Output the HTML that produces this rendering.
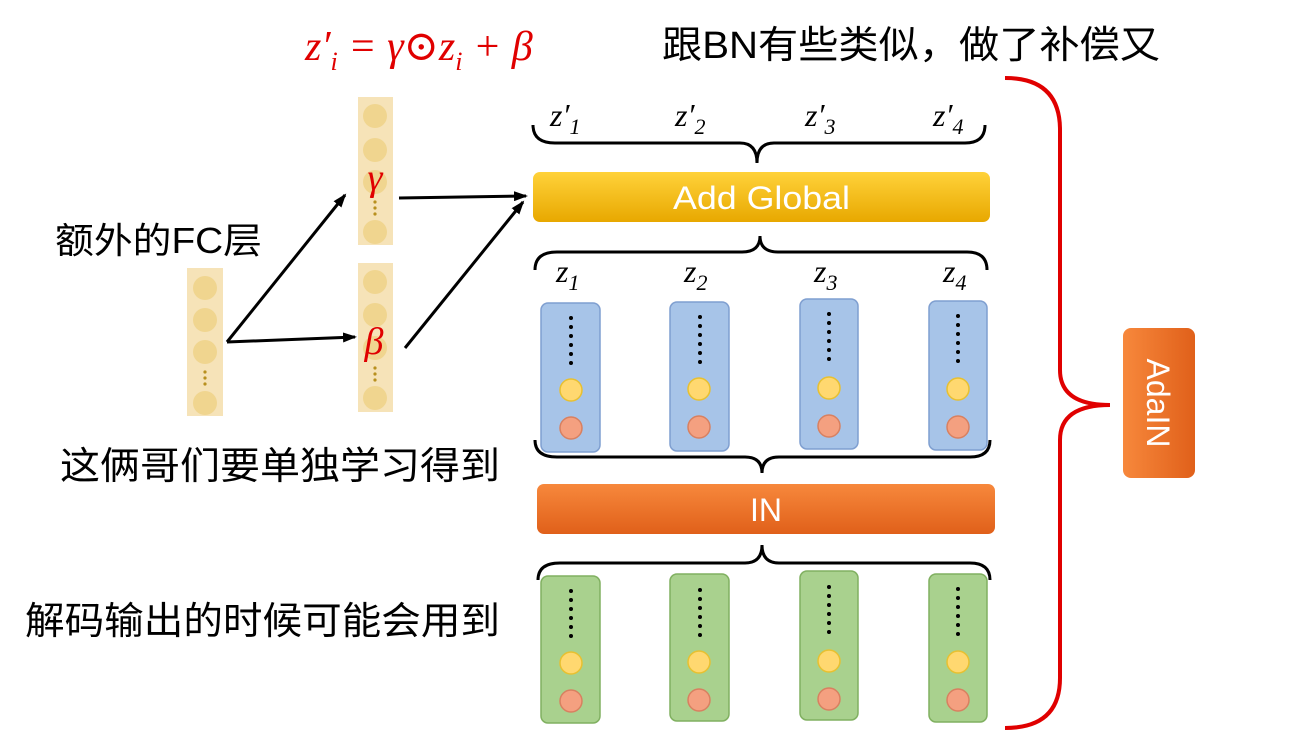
<!DOCTYPE html>
<html><head><meta charset="utf-8"><style>
html,body{margin:0;padding:0;background:#fff;}
svg{display:block;}
.cn{font-family:"Liberation Sans","Noto Sans CJK SC",sans-serif;}
.m{font-family:"Liberation Serif","DejaVu Serif",serif;font-style:italic;}
</style></head><body>
<svg width="1300" height="744" viewBox="0 0 1300 744" xmlns="http://www.w3.org/2000/svg">
<defs>
<linearGradient id="yg" x1="0" y1="0" x2="0" y2="1"><stop offset="0" stop-color="#ffd23a"/><stop offset="1" stop-color="#e8a800"/></linearGradient>
<linearGradient id="og" x1="0" y1="0" x2="0" y2="1"><stop offset="0" stop-color="#f7883c"/><stop offset="1" stop-color="#e0601a"/></linearGradient>
<linearGradient id="og2" x1="0" y1="0" x2="1" y2="0"><stop offset="0" stop-color="#f7883c"/><stop offset="1" stop-color="#e0601a"/></linearGradient>
<marker id="ar" markerWidth="14" markerHeight="10" refX="12" refY="5" orient="auto" markerUnits="userSpaceOnUse"><path d="M0,0 L14,5 L0,10 Z" fill="#000"/></marker>
</defs>

<!-- title -->
<text x="305" y="60" class="m" font-size="42" fill="#e00000">z′<tspan font-size="26" dy="10">i</tspan><tspan dy="-10"> = γ⊙z</tspan><tspan font-size="26" dy="10">i</tspan><tspan dy="-10"> + β</tspan></text>
<text x="662" y="58" class="cn" font-size="38" fill="#000" textLength="498" lengthAdjust="spacingAndGlyphs">跟BN有些类似，做了补偿又</text>

<!-- left texts -->
<text x="55" y="253" class="cn" font-size="36" textLength="207" lengthAdjust="spacingAndGlyphs">额外的FC层</text>
<text x="60" y="479" class="cn" font-size="38" textLength="440" lengthAdjust="spacingAndGlyphs">这俩哥们要单独学习得到</text>
<text x="25" y="634" class="cn" font-size="38" textLength="475" lengthAdjust="spacingAndGlyphs">解码输出的时候可能会用到</text>

<!-- FC column -->
<rect x="187" y="268" width="36" height="148" fill="#f6e3b8"/>
<g fill="#f0d58f"><circle cx="205" cy="288" r="12"/><circle cx="205" cy="320" r="12"/><circle cx="205" cy="352" r="12"/><circle cx="205" cy="403" r="12"/></g>
<g fill="#b8901e"><circle cx="205" cy="372" r="1.6"/><circle cx="205" cy="378" r="1.6"/><circle cx="205" cy="384" r="1.6"/></g>
<!-- gamma column -->
<rect x="358" y="97" width="35" height="148" fill="#f6e3b8"/>
<g fill="#f0d58f"><circle cx="375" cy="116" r="12"/><circle cx="375" cy="150" r="12"/><circle cx="375" cy="182" r="12"/><circle cx="375" cy="232" r="12"/></g>
<g fill="#b8901e"><circle cx="375" cy="202" r="1.6"/><circle cx="375" cy="208" r="1.6"/><circle cx="375" cy="214" r="1.6"/></g>
<text x="375" y="190" class="m" font-size="38" fill="#e00000" text-anchor="middle">γ</text>
<!-- beta column -->
<rect x="358" y="263" width="35" height="149" fill="#f6e3b8"/>
<g fill="#f0d58f"><circle cx="375" cy="282" r="12"/><circle cx="375" cy="315" r="12"/><circle cx="375" cy="348" r="12"/><circle cx="375" cy="398" r="12"/></g>
<g fill="#b8901e"><circle cx="375" cy="368" r="1.6"/><circle cx="375" cy="374" r="1.6"/><circle cx="375" cy="380" r="1.6"/></g>
<text x="374" y="354" class="m" font-size="38" fill="#e00000" text-anchor="middle">β</text>

<!-- arrows -->
<g stroke="#000" stroke-width="3" fill="none" marker-end="url(#ar)">
<line x1="227" y1="342" x2="345" y2="195"/>
<line x1="227" y1="342" x2="355" y2="337"/>
<line x1="399" y1="198" x2="526" y2="196"/>
<line x1="405" y1="348" x2="523" y2="202"/>
</g>

<!-- braces -->
<g stroke="#000" stroke-width="3" fill="none">
<path d="M533,125 Q533,143 555,143 L740,143 Q757,143 757,163 Q757,143 774,143 L965,143 Q985,143 985,125"/>
<path d="M535,270 Q535,252 557,252 L742,252 Q760,252 760,236 Q760,252 778,252 L967,252 Q987,252 987,270"/>
<path d="M535,440 Q535,457 557,457 L745,457 Q762,457 762,473 Q762,457 779,457 L970,457 Q990,457 990,440"/>
<path d="M538,580 Q538,563 560,563 L745,563 Q762,563 762,545 Q762,563 779,563 L970,563 Q990,563 990,580"/>
</g>
<path d="M1005,78 Q1060,78 1060,130 L1060,370 Q1060,405 1110,405 Q1060,405 1060,440 L1060,678 Q1060,728 1005,728" stroke="#e00000" stroke-width="4" fill="none"/>

<!-- z labels -->
<g class="m" font-size="32" fill="#000">
<text x="550" y="126">z′<tspan font-size="22" dy="8">1</tspan></text>
<text x="675" y="126">z′<tspan font-size="22" dy="8">2</tspan></text>
<text x="805" y="126">z′<tspan font-size="22" dy="8">3</tspan></text>
<text x="933" y="126">z′<tspan font-size="22" dy="8">4</tspan></text>
<text x="556" y="282">z<tspan font-size="22" dy="8">1</tspan></text>
<text x="684" y="282">z<tspan font-size="22" dy="8">2</tspan></text>
<text x="814" y="282">z<tspan font-size="22" dy="8">3</tspan></text>
<text x="943" y="282">z<tspan font-size="22" dy="8">4</tspan></text>
</g>

<!-- Add Global -->
<rect x="533" y="172" width="457" height="50" rx="7" fill="url(#yg)"/>
<text x="673" y="209" class="cn" font-size="32" fill="#fff" textLength="177" lengthAdjust="spacingAndGlyphs">Add Global</text>
<!-- IN -->
<rect x="537" y="484" width="458" height="50" rx="7" fill="url(#og)"/>
<text x="766" y="521" class="cn" font-size="32" fill="#fff" text-anchor="middle">IN</text>
<!-- AdaIN -->
<rect x="1123" y="328" width="72" height="150" rx="8" fill="url(#og2)"/>
<text transform="translate(1147,403) rotate(90)" class="cn" font-size="32" fill="#fff" text-anchor="middle">AdaIN</text>

<!-- blue columns -->
<g>
<rect x="541" y="303" width="59" height="149" rx="7" fill="#a7c4e8" stroke="#7f9fd0" stroke-width="1.5"/>
<rect x="670" y="302" width="59" height="149" rx="7" fill="#a7c4e8" stroke="#7f9fd0" stroke-width="1.5"/>
<rect x="800" y="299" width="58" height="150" rx="7" fill="#a7c4e8" stroke="#7f9fd0" stroke-width="1.5"/>
<rect x="929" y="301" width="58" height="149" rx="7" fill="#a7c4e8" stroke="#7f9fd0" stroke-width="1.5"/>
</g>
<!-- green columns -->
<g>
<rect x="541" y="576" width="59" height="147" rx="7" fill="#a9d18e" stroke="#80b060" stroke-width="1.5"/>
<rect x="670" y="574" width="59" height="147" rx="7" fill="#a9d18e" stroke="#80b060" stroke-width="1.5"/>
<rect x="800" y="571" width="58" height="149" rx="7" fill="#a9d18e" stroke="#80b060" stroke-width="1.5"/>
<rect x="929" y="574" width="58" height="148" rx="7" fill="#a9d18e" stroke="#80b060" stroke-width="1.5"/>
</g>
<!-- dots and circles -->
<g id="c">
<g fill="#000">
<circle cx="571" cy="318" r="2"/><circle cx="571" cy="327" r="2"/><circle cx="571" cy="336" r="2"/><circle cx="571" cy="345" r="2"/><circle cx="571" cy="354" r="2"/><circle cx="571" cy="363" r="2"/>
<circle cx="700" cy="317" r="2"/><circle cx="700" cy="326" r="2"/><circle cx="700" cy="335" r="2"/><circle cx="700" cy="344" r="2"/><circle cx="700" cy="353" r="2"/><circle cx="700" cy="362" r="2"/>
<circle cx="829" cy="314" r="2"/><circle cx="829" cy="323" r="2"/><circle cx="829" cy="332" r="2"/><circle cx="829" cy="341" r="2"/><circle cx="829" cy="350" r="2"/><circle cx="829" cy="359" r="2"/>
<circle cx="958" cy="316" r="2"/><circle cx="958" cy="325" r="2"/><circle cx="958" cy="334" r="2"/><circle cx="958" cy="343" r="2"/><circle cx="958" cy="352" r="2"/><circle cx="958" cy="361" r="2"/>
</g>
<g fill="#ffd870" stroke="#e8c030" stroke-width="1.5">
<circle cx="571" cy="390" r="11"/><circle cx="699" cy="389" r="11"/><circle cx="829" cy="388" r="11"/><circle cx="958" cy="389" r="11"/>
</g>
<g fill="#f4a080" stroke="#d88060" stroke-width="1.5">
<circle cx="571" cy="428" r="11"/><circle cx="699" cy="427" r="11"/><circle cx="829" cy="426" r="11"/><circle cx="958" cy="427" r="11"/>
</g>
</g>
<use href="#c" transform="translate(0,273)"/>
</svg>
</body></html>
